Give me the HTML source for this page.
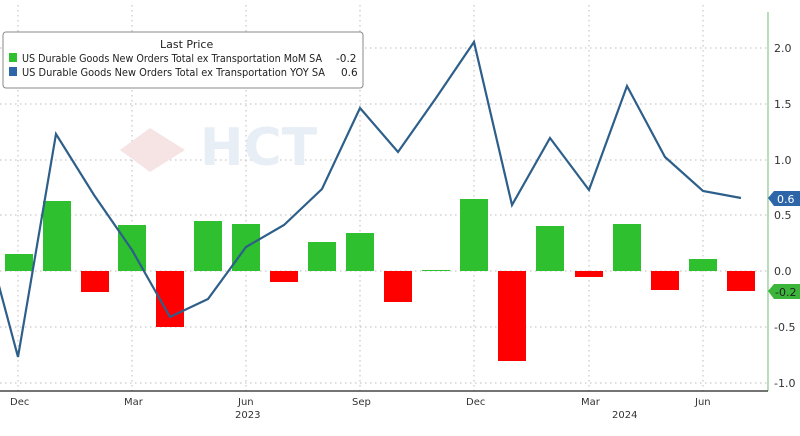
<!DOCTYPE html>
<html><head><style>body{margin:0;background:#fff}svg{display:block}text{font-family:"DejaVu Sans","Liberation Sans",sans-serif}</style></head><body>
<svg width="800" height="436" viewBox="0 0 800 436" xmlns="http://www.w3.org/2000/svg">
<rect width="800" height="436" fill="#fff"/>
<g stroke="#bbb" stroke-dasharray="1.5,3.5" stroke-width="1">
<line x1="0" x2="768" y1="48" y2="48"/><line x1="0" x2="768" y1="104" y2="104"/><line x1="0" x2="768" y1="160" y2="160"/><line x1="0" x2="768" y1="215" y2="215"/><line x1="0" x2="768" y1="271" y2="271"/><line x1="0" x2="768" y1="327" y2="327"/><line x1="0" x2="768" y1="383" y2="383"/>
<line x1="18" x2="18" y1="5" y2="391"/><line x1="132" x2="132" y1="5" y2="391"/><line x1="246" x2="246" y1="5" y2="391"/><line x1="360" x2="360" y1="5" y2="391"/><line x1="474" x2="474" y1="5" y2="391"/><line x1="589" x2="589" y1="5" y2="391"/><line x1="703" x2="703" y1="5" y2="391"/>
</g>
<text x="200" y="165" font-size="52" fill="#e8eef5" font-weight="bold">HCT</text>
<polygon points="120,150 150,128 185,150 150,172" fill="#f6e3e3"/>
<g fill="#2ec02e">
<rect x="5" y="254" width="28" height="17"/><rect x="43" y="201" width="28" height="70"/><rect x="118" y="225" width="28" height="46"/><rect x="194" y="221" width="28" height="50"/><rect x="232" y="224" width="28" height="47"/><rect x="308" y="242" width="28" height="29"/><rect x="346" y="233" width="28" height="38"/><rect x="422" y="270" width="28" height="1"/><rect x="460" y="199" width="28" height="72"/><rect x="536" y="226" width="28" height="45"/><rect x="613" y="224" width="28" height="47"/><rect x="689" y="259" width="28" height="12"/>
</g>
<g fill="#f00">
<rect x="81" y="271" width="28" height="21"/><rect x="156" y="271" width="28" height="56"/><rect x="270" y="271" width="28" height="11"/><rect x="384" y="271" width="28" height="31"/><rect x="498" y="271" width="28" height="90"/><rect x="575" y="271" width="28" height="6"/><rect x="651" y="271" width="28" height="19"/><rect x="727" y="271" width="28" height="20"/>
</g>
<polyline fill="none" stroke="#2d5f8a" stroke-width="2.2" points="-20,215 18,357 56,134 94,195 132,250 170,317 208,299 246,247 284,225 322,189 360,108 398,152 436,98 474,42 512,205 550,138 589,190 627,86 665,157 703,191 741,198"/>
<line x1="768" x2="768" y1="12" y2="391" stroke="#8cc68c" stroke-width="1.2"/>
<line x1="0" x2="768" y1="391" y2="391" stroke="#222" stroke-width="1.2"/>
<g fill="#333" font-size="11">
<text x="774" y="52">2.0</text><text x="774" y="108">1.5</text><text x="774" y="164">1.0</text><text x="774" y="219">0.5</text><text x="774" y="275">0.0</text><text x="774" y="331">-0.5</text><text x="774" y="387">-1.0</text>
</g>
<polygon points="768,198 774,191 800,191 800,206 774,206" fill="#2d66a8"/><text x="777" y="203" font-size="11" fill="#fff">0.6</text>
<polygon points="768,291 774,284 800,284 800,299 774,299" fill="#3bb63b"/><text x="775" y="296" font-size="11" fill="#222">-0.2</text>
<g fill="#333" font-size="10">
<text x="10" y="405">Dec</text><text x="124" y="405">Mar</text><text x="238" y="405">Jun</text><text x="352" y="405">Sep</text><text x="466" y="405">Dec</text><text x="581" y="405">Mar</text><text x="695" y="405">Jun</text>
<text x="235" y="418">2023</text><text x="612" y="418">2024</text>
</g>
<rect x="3" y="32" width="360" height="56" rx="3" fill="#fff" stroke="#888"/>
<text x="160" y="48" font-size="11" fill="#222">Last Price</text>
<rect x="9" y="53" width="8" height="9" fill="#2ec02e"/><rect x="9" y="67" width="8" height="9" fill="#2d66a8"/>
<g font-size="10.5" fill="#222">
<text x="22" y="62" textLength="300" lengthAdjust="spacingAndGlyphs">US Durable Goods New Orders Total ex Transportation MoM SA</text><text x="336" y="62">-0.2</text>
<text x="22" y="76" textLength="303" lengthAdjust="spacingAndGlyphs">US Durable Goods New Orders Total ex Transportation YOY SA</text><text x="341" y="76">0.6</text>
</g>
</svg>
</body></html>
